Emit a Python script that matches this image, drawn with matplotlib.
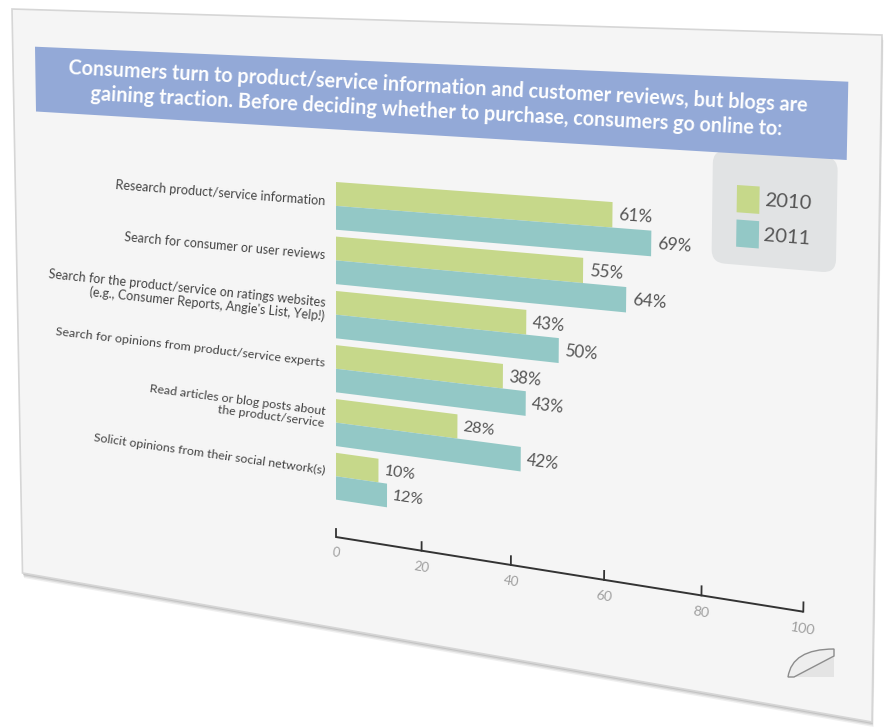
import numpy as np
import matplotlib
matplotlib.use("Agg")
import matplotlib.pyplot as plt
import matplotlib.transforms as mtransforms
from matplotlib.patches import Polygon, Rectangle, FancyBboxPatch, PathPatch
from matplotlib.path import Path

plt.rcParams['font.family'] = ['Lato', 'DejaVu Sans']

# survey data
categories = [
    "Research product/service information",
    "Search for consumer or user reviews",
    "Search for the product/service on ratings websites\n(e.g., Consumer Reports, Angie's List, Yelp!)",
    "Search for opinions from product/service experts",
    "Read articles or blog posts about\nthe product/service",
    "Solicit opinions from their social network(s)",
]
share_2010 = [61, 55, 43, 38, 28, 10]
share_2011 = [69, 64, 50, 43, 42, 12]
years = ["2010", "2011"]
axis_ticks = [0, 20, 40, 60, 80, 100]
title = ("Consumers turn to product/service information and customer reviews, but blogs are\n"
         "gaining traction. Before deciding whether to purchase, consumers go online to:")

GREEN = "#c6d88a"
TEAL = "#93c8c6"
BAND = "#93a9d7"


class Homography(mtransforms.Transform):
    """Projective map from the flat chart plane onto the tilted card."""
    input_dims = 2
    output_dims = 2
    is_separable = False
    has_inverse = True

    def __init__(self, m):
        super().__init__()
        self.m = np.asarray(m, dtype=float)

    def transform_non_affine(self, values):
        vals = np.asarray(values, dtype=float)
        pts = vals.reshape(-1, 2)
        h = np.column_stack([pts, np.ones(len(pts))]) @ self.m.T
        out = h[:, :2] / h[:, 2:]
        return out.reshape(vals.shape)

    def inverted(self):
        return Homography(np.linalg.inv(self.m))


def fit_homography(src, dst):
    rows, rhs = [], []
    for (x, y), (X, Y) in zip(src, dst):
        rows.append([x, y, 1, 0, 0, 0, -X * x, -X * y])
        rhs.append(X)
        rows.append([0, 0, 0, x, y, 1, -Y * x, -Y * y])
        rhs.append(Y)
    h = np.linalg.solve(np.array(rows, float), np.array(rhs, float))
    return np.append(h, 1.0).reshape(3, 3)


fig = plt.figure(figsize=(8.85, 7.28), dpi=100)
ax = fig.add_axes([0, 0, 1, 1])
ax.set_autoscale_on(False)
ax.set_xlim(0, 885)
ax.set_ylim(728, 0)
ax.axis('off')

# flat plane: x = percent, y = vertical position on the card
AXIS_Y = 537
H = Homography(fit_homography(
    [(0, 182), (0, AXIS_Y), (100, AXIS_Y), (100, 182)],
    [(336, 182), (336, 537), (803.3, 611.7), (810, 216.4)]))
T = H + ax.transData
Hinv = H.inverted()


def flat_text(u, v, s, size, **kw):
    # rotate and scale the text to sit on the tilted plane
    p0 = T.transform((u, v))
    px = T.transform((u + 1, v))
    py = T.transform((u, v + 1))
    rot = np.degrees(np.arctan2(px[1] - p0[1], px[0] - p0[0]))
    scale = np.hypot(*(py - p0))
    return ax.text(u, v, s, transform=T, rotation=rot, rotation_mode='anchor',
                   fontsize=size * scale, **kw)


# card with soft shadow
card = [(12, 9), (882, 35), (872, 722), (22.5, 573)]
for k, a in zip([5, 3.5, 2], [0.15, 0.25, 0.35]):
    shadow = [(x + k * 0.3, y + k) for x, y in card]
    ax.add_patch(Polygon(shadow, closed=True, fc='#9a9a9a', ec='none', alpha=a, zorder=0.5))
ax.add_patch(Polygon(card, closed=True, fc='#f5f5f5', ec='#d6d6d6', lw=1.2, zorder=1))

# title band
band = [(35, 46.7), (848.3, 81.7), (846.7, 160), (36, 111.5)]
ax.add_patch(Polygon(band, closed=True, fc=BAND, ec='none', zorder=2))
tx, ty = Hinv.transform((437, 99.5))
flat_text(tx, ty, title, 13.6, ha='center', va='center', multialignment='center',
          color='white', fontweight='bold', linespacing=1.3, zorder=3)

# legend box
bx0, by0 = Hinv.transform((713, 150))
bx1, _ = Hinv.transform((838, 150))
_, by1 = Hinv.transform((776, 268))
ax.add_patch(FancyBboxPatch((bx0, by0), bx1 - bx0, by1 - by0,
                            boxstyle="round,pad=0,rounding_size=2.6", mutation_aspect=4.6,
                            fc='#e1e3e4', ec='none', transform=T, zorder=1.5))
lx, ly = Hinv.transform((737, 185))
for i, (year, col) in enumerate(zip(years, [GREEN, TEAL])):
    y0 = ly + i * 31
    ax.add_patch(Rectangle((lx, y0), 4.4, 24.5, fc=col, ec='none', transform=T, zorder=4))
    flat_text(lx + 5.3, y0 + 12.5, year, 13, ha='left', va='center',
              color='#555555', zorder=4)

# bars
group_top = 182 + 54 * np.arange(len(categories))
bar_h = 23.6
c2010 = group_top + bar_h / 2
c2011 = group_top + bar_h * 1.5
ax.barh(c2010, share_2010, height=bar_h, left=0, color=GREEN, transform=T, zorder=3)
ax.barh(c2011, share_2011, height=bar_h, left=0, color=TEAL, transform=T, zorder=3)

for vals, centers in [(share_2010, c2010), (share_2011, c2011)]:
    for v, c in zip(vals, centers):
        flat_text(v + 1.3, c, f"{v}%", 11.5, ha='left', va='center',
                  color='#555555', zorder=4)

for lab, top in zip(categories, group_top):
    flat_text(-2.6, top + bar_h - 4, lab, 9, ha='right', va='center',
              multialignment='right', color='#444444', linespacing=1.15, zorder=4)

# value axis
ax.plot([axis_ticks[0], axis_ticks[-1]], [AXIS_Y, AXIS_Y], color='#333333', lw=1.4,
        transform=T, zorder=3, solid_capstyle='butt')
for t in axis_ticks:
    ax.plot([t, t], [AXIS_Y, AXIS_Y - 8.5], color='#333333', lw=1.3, transform=T, zorder=3)
    flat_text(t, AXIS_Y + 16, str(t), 9.5, ha='center', va='center',
              color='#a0a0a0', zorder=3)

# page curl in the corner
curl = Path([(788, 677), (792, 649), (834, 649), (834, 656), (794, 677), (788, 677)],
            [Path.MOVETO, Path.CURVE3, Path.CURVE3, Path.LINETO, Path.LINETO, Path.CLOSEPOLY])
ax.add_patch(PathPatch(curl, fc='#eeeeee', ec='#8c8c8c', lw=1.0, zorder=3))
ax.add_patch(Polygon([(794, 677), (834, 656), (834, 677)], closed=True,
                     fc='#e4e4e4', ec='none', zorder=2.5))

fig.savefig("out.png", dpi=100, facecolor='white')
